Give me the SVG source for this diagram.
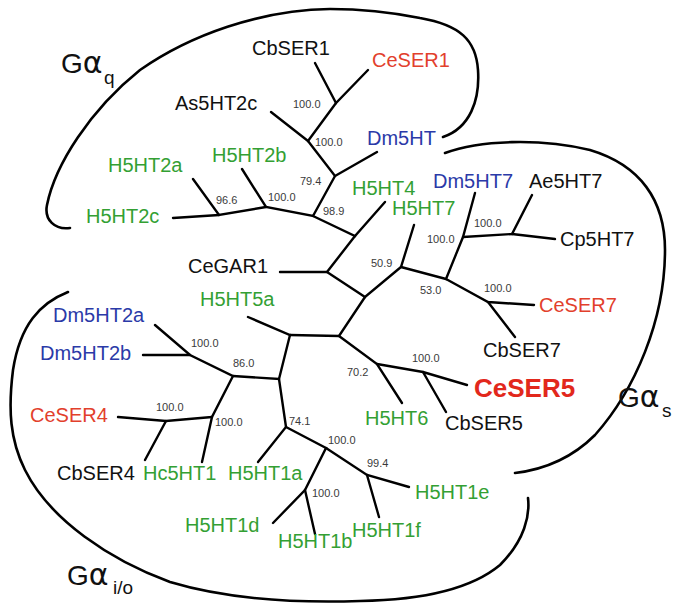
<svg xmlns="http://www.w3.org/2000/svg" width="675" height="603" viewBox="0 0 675 603">
<style>
text{font-family:"Liberation Sans",Arial,sans-serif}
.lf{font-size:20px;fill:#111}
.g{fill:#33a033}
.r{fill:#e2402c}
.b{fill:#2b3aa8}
.bs{font-size:11px;fill:#3a3a3a}
.br{stroke:#000;stroke-width:2.4;fill:none;stroke-linecap:round}
.cv{stroke:#000;stroke-width:2.6;fill:none;stroke-linecap:round}
.G{font-size:28px;fill:#111}
.al{font-family:"DejaVu Sans",sans-serif;font-size:30px}
.sub{font-size:19px;fill:#111}
</style>
<rect width="675" height="603" fill="#fff"/>
<g id="groups">
<g id="Gq"><path class="cv" d="M443,137 C470,128 480,100 478,70 C476,40 460,25 420,18 C390,12 360,9 330,9 C260,10 190,35 140,70 C90,110 55,165 47,205 C44,220 55,230 70,228"/>
<text class="G" x="61" y="73">G<tspan class="al">α</tspan></text><text class="sub" x="104" y="84">q</text></g>
<g id="Gs"><path class="cv" d="M445,153 C480,140 540,138 590,150 C640,165 665,200 665,250 C665,320 635,390 595,435 C570,460 540,470 515,473"/>
<text class="G" x="618" y="407">G<tspan class="al">α</tspan></text><text class="sub" x="662" y="417">s</text></g>
<g id="Gio"><path class="cv" d="M68,292 C40,303 20,325 13,370 C8,410 10,440 25,470 C50,520 110,560 170,582 C230,600 300,603 360,601 C420,600 470,590 500,565 C525,540 530,515 528,498"/>
<text class="G" x="67" y="585">G<tspan class="al">α</tspan></text><text class="sub" x="113" y="594">i/o</text></g>
</g>
<g id="connectors" class="br">
<path d="M315,63 L336,103 L368,70"/>
<path d="M336,103 L308,141 L271,112"/>
<path d="M308,141 L335,176 L377,152"/>
<path d="M335,176 L313,216 L266,207 L242,169"/>
<path d="M266,207 L219,215 L193,179"/>
<path d="M219,215 L173,218"/>
<path d="M313,216 L355,236 L385,202"/>
<path d="M355,236 L327,272 L280,272"/>
<path d="M327,272 L365,297 L401,267 L414,225"/>
<path d="M401,267 L446,279 L463,237 L475,193"/>
<path d="M463,237 L512,234 L532,195"/>
<path d="M512,234 L555,239"/>
<path d="M446,279 L488,302 L534,305"/>
<path d="M488,302 L515,337"/>
<path d="M365,297 L339,336 L290,335 L248,317"/>
<path d="M339,336 L377,364 L402,403"/>
<path d="M377,364 L423,372 L467,385"/>
<path d="M423,372 L446,412"/>
<path d="M290,335 L279,379 L233,376 L190,355 L155,325"/>
<path d="M190,355 L143,355"/>
<path d="M233,376 L212,417 L202,462"/>
<path d="M212,417 L166,421 L118,417"/>
<path d="M166,421 L145,460"/>
<path d="M279,379 L286,427 L258,462"/>
<path d="M286,427 L326,448 L305,490 L273,523"/>
<path d="M305,490 L315,534"/>
<path d="M326,448 L367,475 L409,487"/>
<path d="M367,475 L379,517"/>
</g>
<g id="leaves">
<g id="CbSER1"><text class="lf" x="252" y="55">CbSER1</text></g>
<g id="CeSER1"><text class="lf r" x="372" y="67">CeSER1</text></g>
<g id="As5HT2c"><text class="lf" x="175" y="110">As5HT2c</text></g>
<g id="Dm5HT"><text class="lf b" x="367" y="145">Dm5HT</text></g>
<g id="H5HT2a"><text class="lf g" x="108" y="172">H5HT2a</text></g>
<g id="H5HT2b"><text class="lf g" x="212" y="162">H5HT2b</text></g>
<g id="H5HT2c"><text class="lf g" x="86" y="223">H5HT2c</text></g>
<g id="H5HT4"><text class="lf g" x="352" y="195">H5HT4</text></g>
<g id="H5HT7"><text class="lf g" x="392" y="215">H5HT7</text></g>
<g id="Dm5HT7"><text class="lf b" x="433" y="188">Dm5HT7</text></g>
<g id="Ae5HT7"><text class="lf" x="529" y="188">Ae5HT7</text></g>
<g id="Cp5HT7"><text class="lf" x="560" y="246">Cp5HT7</text></g>
<g id="CeSER7"><text class="lf r" x="539" y="312">CeSER7</text></g>
<g id="CbSER7"><text class="lf" x="483" y="357">CbSER7</text></g>
<g id="CeGAR1"><text class="lf" x="188" y="273">CeGAR1</text></g>
<g id="H5HT5a"><text class="lf g" x="200" y="306">H5HT5a</text></g>
<g id="CeSER5"><text x="474" y="397" style="font-size:26px;font-weight:bold;fill:#e2281c">CeSER5</text></g>
<g id="H5HT6"><text class="lf g" x="365" y="425">H5HT6</text></g>
<g id="CbSER5"><text class="lf" x="445" y="430">CbSER5</text></g>
<g id="Dm5HT2a"><text class="lf b" x="53" y="322">Dm5HT2a</text></g>
<g id="Dm5HT2b"><text class="lf b" x="40" y="360">Dm5HT2b</text></g>
<g id="CeSER4"><text class="lf r" x="30" y="422">CeSER4</text></g>
<g id="CbSER4"><text class="lf" x="57" y="480">CbSER4</text></g>
<g id="Hc5HT1"><text class="lf g" x="143" y="480">Hc5HT1</text></g>
<g id="H5HT1a"><text class="lf g" x="228" y="480">H5HT1a</text></g>
<g id="H5HT1d"><text class="lf g" x="185" y="532">H5HT1d</text></g>
<g id="H5HT1b"><text class="lf g" x="278" y="548">H5HT1b</text></g>
<g id="H5HT1f"><text class="lf g" x="352" y="537">H5HT1f</text></g>
<g id="H5HT1e"><text class="lf g" x="415" y="499">H5HT1e</text></g>
</g>
<g id="bootstrap">
<text class="bs" x="293" y="108">100.0</text>
<text class="bs" x="315" y="146">100.0</text>
<text class="bs" x="300" y="185">79.4</text>
<text class="bs" x="216" y="204">96.6</text>
<text class="bs" x="268" y="201">100.0</text>
<text class="bs" x="323" y="215">98.9</text>
<text class="bs" x="371" y="267">50.9</text>
<text class="bs" x="420" y="294">53.0</text>
<text class="bs" x="427" y="243">100.0</text>
<text class="bs" x="474" y="227">100.0</text>
<text class="bs" x="484" y="292">100.0</text>
<text class="bs" x="347" y="376">70.2</text>
<text class="bs" x="412" y="362">100.0</text>
<text class="bs" x="191" y="347">100.0</text>
<text class="bs" x="233" y="367">86.0</text>
<text class="bs" x="156" y="411">100.0</text>
<text class="bs" x="215" y="426">100.0</text>
<text class="bs" x="289" y="425">74.1</text>
<text class="bs" x="328" y="444">100.0</text>
<text class="bs" x="367" y="467">99.4</text>
<text class="bs" x="312" y="497">100.0</text>
</g>
</svg>
